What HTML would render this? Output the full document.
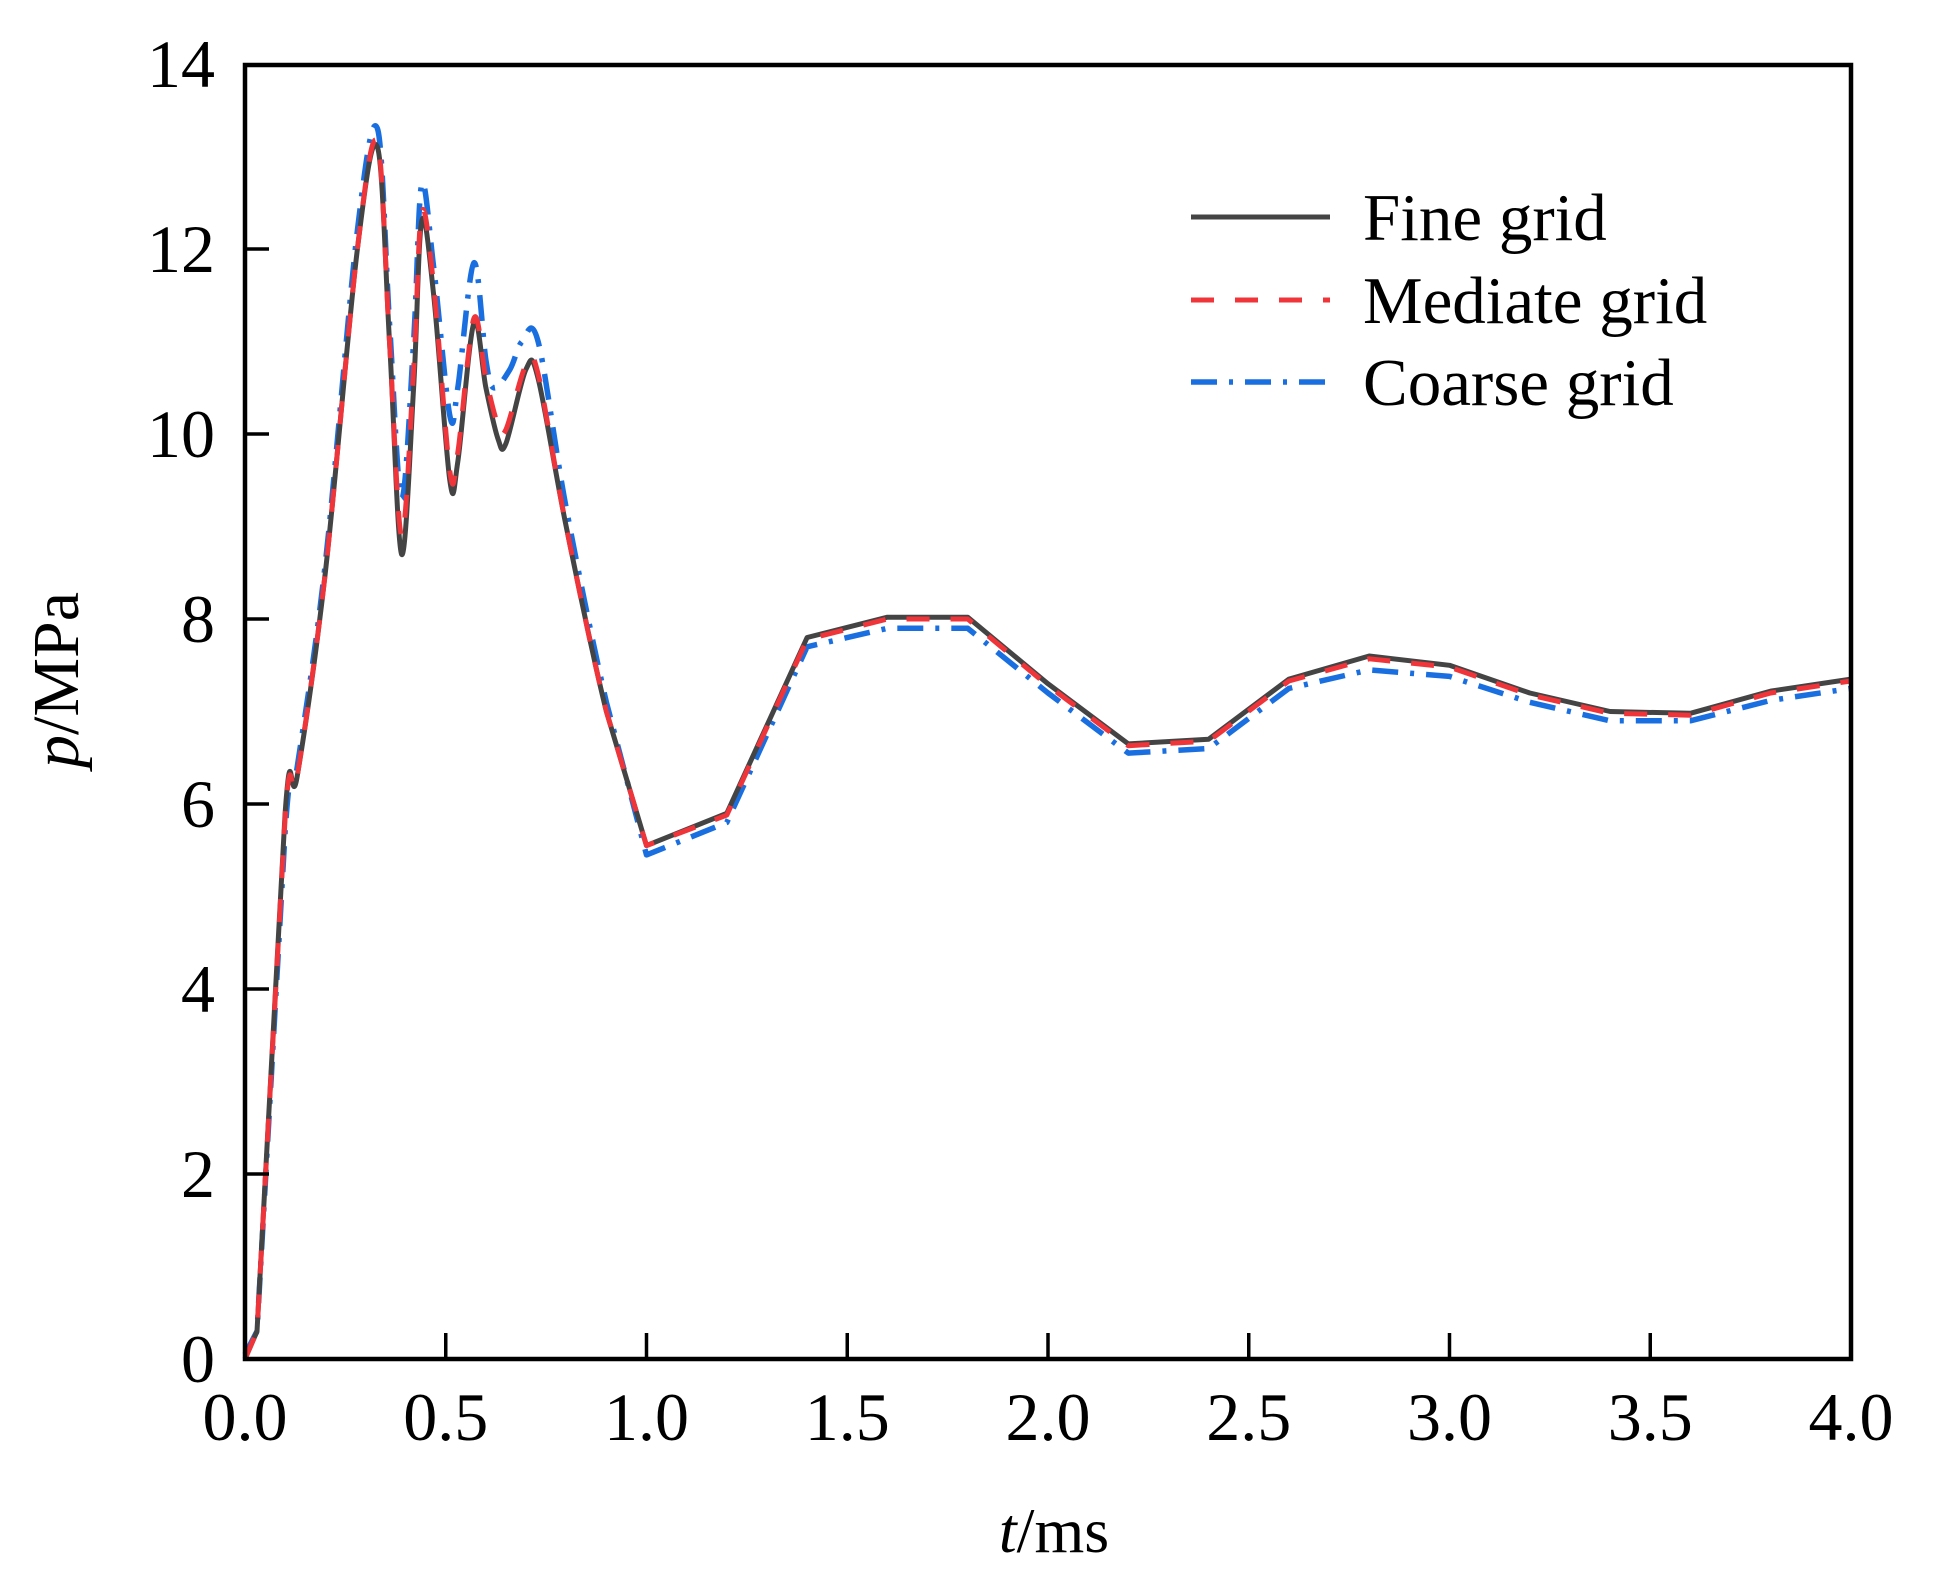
<!DOCTYPE html>
<html><head><meta charset="utf-8">
<style>
html,body{margin:0;padding:0;background:#fff;}
svg{display:block;}
text{font-family:"Liberation Serif","Times New Roman",serif;fill:#000;}
</style></head>
<body>
<svg id="s" width="1934" height="1577" viewBox="0 0 1934 1577" xmlns="http://www.w3.org/2000/svg">
<rect x="0" y="0" width="1934" height="1577" fill="#fff"/>
<g id="curves"></g>
<rect x="245" y="65" width="1606" height="1294" fill="none" stroke="#000" stroke-width="4.5"/>
<g id="ticks" stroke="#000" stroke-width="3.5"></g>
<g id="labels" font-size="68"></g>
<text x="1054" y="1552" font-size="64" text-anchor="middle"><tspan font-style="italic">t</tspan>/ms</text>
<text transform="translate(78,680) rotate(-90)" font-size="66" text-anchor="middle"><tspan font-style="italic">p</tspan>/MPa</text>
<g font-size="67">
<line x1="1191" y1="217" x2="1330" y2="217" stroke="#444" stroke-width="5"/>
<line x1="1191" y1="300" x2="1330" y2="300" stroke="#f0353a" stroke-width="5" stroke-dasharray="23 21"/>
<line x1="1191" y1="382" x2="1330" y2="382" stroke="#1a6fe0" stroke-width="5.5" stroke-dasharray="26 12 4 12"/>
<text x="1363" y="240">Fine grid</text>
<text x="1363" y="323">Mediate grid</text>
<text x="1363" y="405">Coarse grid</text>
</g>
</svg>
<script>
var X=function(t){return 245+t*401.5;}, Y=function(p){return 1359-p*92.5;};
var NS="http://www.w3.org/2000/svg";
var ticks=document.getElementById('ticks'), labels=document.getElementById('labels');
function el(p,n,a){var e=document.createElementNS(NS,n);for(var k in a)e.setAttribute(k,a[k]);p.appendChild(e);return e;}
for(var i=1;i<8;i++){var x=X(i*0.5);el(ticks,'line',{x1:x,y1:1359,x2:x,y2:1333});}
for(var i=0;i<=8;i++){var t=el(labels,'text',{x:X(i*0.5),y:1440,'text-anchor':'middle'});t.textContent=(i*0.5).toFixed(1);}
for(var i=1;i<7;i++){var y=Y(i*2);el(ticks,'line',{x1:245,y1:y,x2:269,y2:y});}
for(var i=0;i<=7;i++){var t=el(labels,'text',{x:215,y:Y(i*2)+23,'text-anchor':'end'});t.textContent=String(i*2);}
var fine=[[0,0],[0.03,0.3],[0.1,5.9],[0.13,6.3],[0.2,8.5],[0.28,12],[0.33,13.1],[0.36,11],[0.39,8.7],[0.42,10.5],[0.44,12.3],[0.47,11.5],[0.51,9.5],[0.53,9.7],[0.57,11.2],[0.6,10.5],[0.63,9.95],[0.65,9.9],[0.7,10.7],[0.73,10.6],[0.8,9],[0.9,7],[1.0,5.55],[1.2,5.9],[1.4,7.8],[1.6,8.02],[1.8,8.02],[2.0,7.3],[2.2,6.65],[2.4,6.7],[2.6,7.35],[2.8,7.6],[3.0,7.5],[3.2,7.2],[3.4,7.0],[3.6,6.98],[3.8,7.22],[4.0,7.35]];
var med=[[0,0],[0.03,0.3],[0.1,5.85],[0.13,6.3],[0.2,8.5],[0.28,12],[0.33,13.15],[0.36,11],[0.39,8.9],[0.42,10.7],[0.44,12.4],[0.47,11.6],[0.51,9.6],[0.53,9.8],[0.57,11.25],[0.6,10.6],[0.63,10.1],[0.65,10.05],[0.7,10.75],[0.73,10.65],[0.8,9],[0.9,7],[1.0,5.55],[1.2,5.88],[1.4,7.78],[1.6,8.0],[1.8,8.0],[2.0,7.28],[2.2,6.63],[2.4,6.68],[2.6,7.33],[2.8,7.57],[3.0,7.48],[3.2,7.18],[3.4,6.98],[3.6,6.96],[3.8,7.2],[4.0,7.33]];
var coarse=[[0,0.05],[0.03,0.3],[0.1,5.7],[0.13,6.4],[0.2,8.6],[0.28,12.2],[0.33,13.3],[0.36,11.2],[0.39,9.3],[0.42,11],[0.44,12.7],[0.47,11.8],[0.51,10.2],[0.53,10.5],[0.57,11.85],[0.6,10.8],[0.62,10.5],[0.66,10.7],[0.69,11.0],[0.73,11.0],[0.8,9.2],[0.9,7.1],[1.0,5.45],[1.2,5.8],[1.4,7.7],[1.6,7.9],[1.8,7.9],[2.0,7.2],[2.2,6.55],[2.4,6.6],[2.6,7.25],[2.8,7.45],[3.0,7.38],[3.2,7.1],[3.4,6.9],[3.6,6.9],[3.8,7.12],[4.0,7.25]];
function path(d){
  var P=d.map(function(p){return [X(p[0]),Y(p[1])];});
  var s='M'+P[0][0].toFixed(1)+' '+P[0][1].toFixed(1);
  for(var i=1;i<P.length;i++){
    if(d[i][0]<=0.9 && i>=3){
      var p0=P[i-2],p1=P[i-1],p2=P[i],p3=P[Math.min(i+1,P.length-1)];
      var c1=[p1[0]+(p2[0]-p0[0])/6,p1[1]+(p2[1]-p0[1])/6];
      var c2=[p2[0]-(p3[0]-p1[0])/6,p2[1]-(p3[1]-p1[1])/6];
      s+=' C'+c1[0].toFixed(1)+' '+c1[1].toFixed(1)+' '+c2[0].toFixed(1)+' '+c2[1].toFixed(1)+' '+p2[0].toFixed(1)+' '+p2[1].toFixed(1);
    } else s+=' L'+P[i][0].toFixed(1)+' '+P[i][1].toFixed(1);
  }
  return s;
}
var g=document.getElementById('curves');
el(g,'path',{d:path(coarse),fill:'none',stroke:'#1a6fe0','stroke-width':5.5,'stroke-dasharray':'26 12 4 12','stroke-linejoin':'round'});
el(g,'path',{d:path(fine),fill:'none',stroke:'#444','stroke-width':5,'stroke-linejoin':'round'});
el(g,'path',{d:path(med),fill:'none',stroke:'#f0353a','stroke-width':5,'stroke-dasharray':'23 21','stroke-linejoin':'round'});
</script>
</body></html>
